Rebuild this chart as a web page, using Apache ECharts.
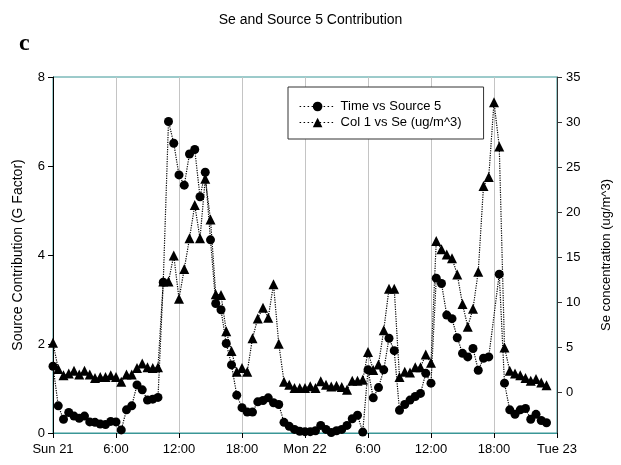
<!DOCTYPE html>
<html>
<head>
<meta charset="utf-8">
<script src="https://cdn.jsdelivr.net/npm/echarts@6/dist/echarts.min.js"></script>
<style>
  html, body { margin: 0; padding: 0; background: #fff; }
  #chart { width: 621px; height: 465px; }
</style>
</head>
<body>
<div id="chart"></div>
<script>
// Half-hourly samples, starting Sunday 00:00
const HOURS_STEP = 0.5;

// Source 5 contribution (G factor), left axis
const source5 = [
  1.50, 0.61, 0.31, 0.46, 0.38, 0.33, 0.38, 0.25, 0.24, 0.20,
  0.19, 0.26, 0.25, 0.07, 0.52, 0.61, 1.08, 0.97, 0.74, 0.76,
  0.80, 3.39, 7.00, 6.51, 5.80, 5.57, 6.27, 6.37, 5.31, 5.86,
  4.34, 2.91, 2.77, 2.01, 1.53, 0.85, 0.57, 0.47, 0.47, 0.70,
  0.73, 0.79, 0.68, 0.64, 0.24, 0.15, 0.08, 0.04, 0.03, 0.03,
  0.05, 0.17, 0.08, 0.01, 0.05, 0.08, 0.17, 0.32, 0.40, 0.02,
  1.42, 0.79, 1.02, 1.42, 2.13, 1.85, 0.51, 0.64, 0.74, 0.82,
  0.89, 1.34, 1.12, 3.48, 3.36, 2.65, 2.57, 2.14, 1.79, 1.71,
  1.90, 1.41, 1.68, 1.71, null, 3.57, 1.12, 0.52, 0.42, 0.52,
  0.55, 0.31, 0.42, 0.28, 0.23
];

// Se concentration (ug/m^3), right axis
const seConc = [
  5.5, 2.6, 1.9, 2.1, 2.4, 2.0, 2.4, 2.0, 1.6, 1.7,
  1.7, 1.9, 1.7, 1.2, 2.0, 2.0, 2.7, 3.2, 2.8, 2.7,
  2.8, 12.3, 12.3, 15.2, 10.4, 13.7, 17.1, 20.8, 17.1, 23.7,
  19.2, 10.9, 10.8, 6.8, 4.6, 2.3, 2.7, 2.3, 6.0, 8.2,
  9.4, 8.3, 12.0, 5.4, 1.2, 0.85, 0.5, 0.5, 0.5, 0.7,
  0.5, 1.25, 0.85, 0.65, 0.75, 0.6, 0.3, 1.3, 1.3, 1.4,
  4.5, 2.5, 3.1, 6.9, 11.5, 11.5, 1.7, 2.3, 2.2, 2.8,
  2.8, 4.2, 3.3, 16.8, 15.9, 15.3, 14.9, 13.1, 9.8, 7.3,
  9.3, 13.4, 22.9, 23.9, 32.2, 27.3, 5.0, 2.4, 2.1, 1.9,
  1.6, 1.3, 1.5, 1.1, 0.8
];

// Time axis ticks every 6 hours
const xTickLabels = ['Sun 21', '6:00', '12:00', '18:00', 'Mon 22', '6:00', '12:00', '18:00', 'Tue 23'];
const seTicks = [0, 5, 10, 15, 20, 25, 30, 35];

const FONT = "'Liberation Sans', Arial, sans-serif";
const TEAL = '#3a9696';

const withTime = arr => arr.map((v, i) => [i * HOURS_STEP, v]);

const chart = echarts.init(document.getElementById('chart'), null, { renderer: 'canvas' });

chart.setOption({
  animation: false,
  backgroundColor: '#fff',
  textStyle: { fontFamily: FONT },
  title: [
    {
      text: 'Se and Source 5 Contribution',
      left: 'center', top: 8,
      textStyle: { fontFamily: FONT, fontSize: 14, fontWeight: 'normal', color: '#000' }
    },
    {
      text: 'c',
      left: 14, top: 27,
      textStyle: { fontFamily: "'Liberation Serif', 'Times New Roman', serif", fontSize: 24, fontWeight: 'bold', color: '#000' }
    }
  ],
  legend: {
    orient: 'vertical',
    left: 288, top: 87,
    padding: [13, 22, 10, 11],
    itemGap: 3,
    itemWidth: 36, itemHeight: 12,
    borderColor: '#333', borderWidth: 1,
    backgroundColor: '#fff',
    lineStyle: { width: 1.2, type: [1.5, 2.5], color: '#000' },
    textStyle: { fontFamily: FONT, fontSize: 13, color: '#000' },
    data: ['Time vs Source 5', 'Col 1 vs Se (ug/m^3)']
  },
  grid: {
    left: 53, right: 59, top: 77, bottom: 32,
    show: true, borderColor: TEAL, borderWidth: 1, backgroundColor: 'transparent'
  },
  xAxis: {
    type: 'value',
    min: 0, max: 48, interval: 6,
    axisLine: { onZero: false, lineStyle: { color: TEAL, width: 1 } },
    axisTick: { show: true, length: 5, lineStyle: { color: '#000' } },
    axisLabel: {
      color: '#000', fontSize: 13, margin: 10, fontFamily: FONT,
      formatter: v => xTickLabels[Math.round(v / 6)]
    },
    splitLine: { show: true, lineStyle: { color: '#c4c4c4', width: 1 } }
  },
  yAxis: [
    {
      type: 'value',
      min: 0, max: 8, interval: 2,
      name: 'Source Contribution (G Factor)',
      nameLocation: 'middle', nameGap: 28,
      nameTextStyle: { fontFamily: FONT, fontSize: 14, color: '#000' },
      axisLine: { show: true, lineStyle: { color: '#000' } },
      axisTick: { show: true, length: 5, lineStyle: { color: '#000' } },
      axisLabel: { color: '#000', fontSize: 13, margin: 8, fontFamily: FONT },
      splitLine: { show: false }
    },
    {
      type: 'value',
      position: 'right',
      min: -4.5, max: 35,
      name: 'Se concentration (ug/m^3)',
      nameLocation: 'middle', nameGap: 43,
      nameTextStyle: { fontFamily: FONT, fontSize: 13, color: '#000' },
      axisLine: { show: true, lineStyle: { color: '#333' } },
      axisTick: { show: true, length: 5, customValues: seTicks, lineStyle: { color: '#333' } },
      axisLabel: { color: '#000', fontSize: 13, margin: 9, fontFamily: FONT, customValues: seTicks },
      splitLine: { show: false }
    }
  ],
  series: [
    {
      name: 'Time vs Source 5',
      type: 'line',
      yAxisIndex: 0,
      data: withTime(source5),
      connectNulls: true,
      symbol: 'circle', symbolSize: 9,
      itemStyle: { color: '#000' },
      lineStyle: { color: '#000', width: 1.2, type: 'dotted' },
      z: 3
    },
    {
      name: 'Col 1 vs Se (ug/m^3)',
      type: 'line',
      yAxisIndex: 1,
      data: withTime(seConc),
      symbol: 'triangle', symbolSize: 10,
      itemStyle: { color: '#000' },
      lineStyle: { color: '#000', width: 1.2, type: 'dotted' },
      z: 2
    }
  ]
});
</script>
</body>
</html>
